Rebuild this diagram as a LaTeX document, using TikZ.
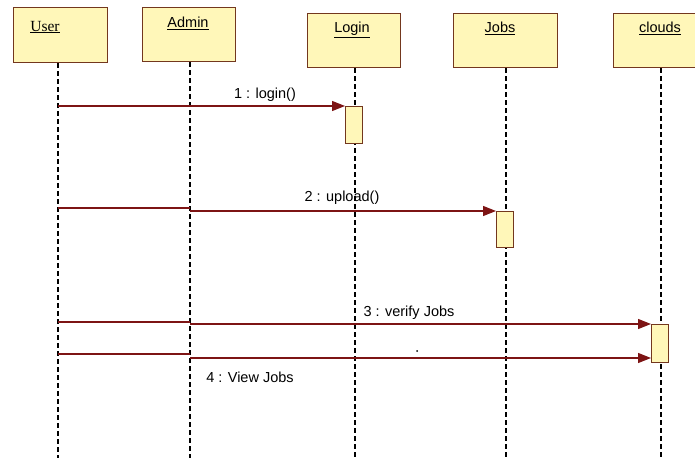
\documentclass[tikz,border=0pt]{standalone}
\usepackage{fontspec}
\setmainfont{Liberation Sans}
\newfontfamily\userfont{Liberation Serif}
\usetikzlibrary{arrows.meta}
\definecolor{boxfill}{RGB}{255,247,185}
\definecolor{boxedge}{RGB}{115,55,30}
\definecolor{msgcol}{RGB}{125,20,20}
\begin{document}
\begin{tikzpicture}[x=1pt,y=-1pt,
  obj/.style={draw=boxedge, line width=1.4pt, fill=boxfill, anchor=north west, inner sep=0pt},
  act/.style={draw=boxedge, line width=1.1pt, fill=boxfill, anchor=north west, inner sep=0pt, minimum width=17pt},
  life/.style={black, line width=1.2pt, dash pattern=on 5pt off 3pt},
  msgline/.style={msgcol, line width=1.2pt},
  msgarrow/.style={msgline, -{Triangle[length=13pt,width=10pt]}},
  lbl/.style={font=\fontsize{14.5}{16}\selectfont, inner sep=0pt}]
\useasboundingbox (0,0) rectangle (695,458);
\fill[white] (0,0) rectangle (695,458);

% object boxes
\node[obj, minimum width=94pt, minimum height=55pt] (user) at (13,7) {};
\node[obj, minimum width=93pt, minimum height=54pt] (admin) at (142,7) {};
\node[obj, minimum width=93pt, minimum height=54pt] (login) at (307,13) {};
\node[obj, minimum width=104pt, minimum height=54pt] (jobs) at (453,13) {};
\node[obj, minimum width=96pt, minimum height=54pt] (clouds) at (613,13) {};

% labels of the boxes
\node[inner sep=0pt, font=\userfont\fontsize{15.5}{17}\selectfont] (userT) at (45,27) {\underline{User}};
\node[lbl] (adminT) at (188,23) {\underline{Admin}};
\node[lbl] (loginT) at (352,30) {\underline{Login}};
\node[lbl] (jobsT) at (500,28) {\underline{Jobs}};
\node[lbl] (cloudsT) at (660,28) {\underline{clouds}};

% lifeline ends
\coordinate (userE) at (58,458);
\coordinate (adminE) at (190,458);
\coordinate (loginE) at (355,458);
\coordinate (jobsE) at (506,458);
\coordinate (cloudsE) at (661,458);
\draw[life] (user.south -| userE) -- (userE);
\draw[life] (admin.south -| adminE) -- (adminE);
\draw[life] (login.south -| loginE) -- (loginE);
\draw[life] (jobs.south -| jobsE) -- (jobsE);
\draw[life] (clouds.south -| cloudsE) -- (cloudsE);

% activations
\node[act, minimum height=37pt] (a1) at (345,106) {};
\node[act, minimum height=36pt] (a2) at (496,211) {};
\node[act, minimum height=38pt] (a3) at (651,324) {};

% message 1
\coordinate (m1s) at (58,106);
\draw[msgarrow] (m1s) -- (a1.north west);
\node[lbl] (m1l) at (265,95) {1 : login()};

% message 2
\coordinate (m2s) at (58,208);
\coordinate (m2a) at (190,208);
\coordinate (m2b) at (190,211);
\draw[msgline] (m2s) -- (m2a);
\draw[msgarrow] (m2b) -- (a2.north west);
\node[lbl] (m2l) at (342,198) {2 : upload()};

% message 3
\coordinate (m3s) at (58,322);
\coordinate (m3a) at (190,322);
\coordinate (m3b) at (190,324);
\draw[msgline] (m3s) -- (m3a);
\draw[msgarrow] (m3b) -- (a3.north west);
\node[lbl] (m3l) at (409,313) {3 : verify Jobs};

% message 4
\coordinate (m4s) at (58,354);
\coordinate (m4a) at (190,354);
\coordinate (m4b) at (190,358);
\draw[msgline] (m4s) -- (m4a);
\draw[msgarrow] (m4b) -- (a3.west |- m4b);
\node[lbl] (m4l) at (250,377) {4 : View Jobs};

% redraw activations on top of arrows
\node[act, minimum height=37pt] (a1t) at (345,106) {};
\node[act, minimum height=36pt] (a2t) at (496,211) {};
\node[act, minimum height=38pt] (a3t) at (651,324) {};

% small dot
\fill[black] (417,351) circle (1pt);
\end{tikzpicture}
\end{document}
